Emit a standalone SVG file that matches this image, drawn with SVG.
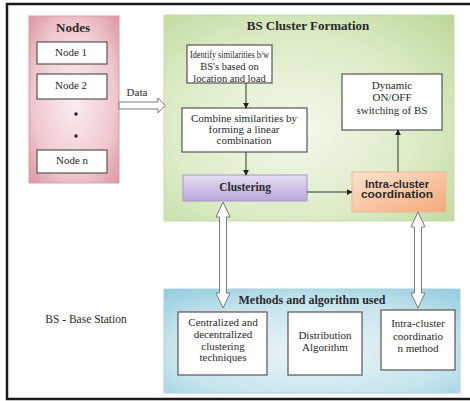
<svg xmlns="http://www.w3.org/2000/svg" width="470" height="401" viewBox="0 0 470 401" font-family="'Liberation Serif','Times New Roman',serif">
<defs>
<radialGradient id="gPink" cx="0.5" cy="0.5" r="0.75">
<stop offset="0" stop-color="#fbeef0"/>
<stop offset="0.6" stop-color="#f0c8ce"/>
<stop offset="1" stop-color="#d98c98"/>
</radialGradient>
<radialGradient id="gGreen" cx="0.45" cy="0.55" r="0.8">
<stop offset="0" stop-color="#f4f8ec"/>
<stop offset="0.55" stop-color="#dcebc6"/>
<stop offset="1" stop-color="#b9d596"/>
</radialGradient>
<radialGradient id="gBlue" cx="0.5" cy="0.6" r="0.8">
<stop offset="0" stop-color="#eaf5f8"/>
<stop offset="0.6" stop-color="#c6e4ed"/>
<stop offset="1" stop-color="#8cc9db"/>
</radialGradient>
<linearGradient id="gPurple" x1="0" y1="0" x2="0" y2="1">
<stop offset="0" stop-color="#e6def2"/>
<stop offset="1" stop-color="#b9a6da"/>
</linearGradient>
<linearGradient id="gOrange" x1="0" y1="0" x2="1" y2="1">
<stop offset="0" stop-color="#fde3cf"/>
<stop offset="1" stop-color="#f5a97a"/>
</linearGradient>
<marker id="ah" viewBox="0 0 8 8" refX="7" refY="4" markerWidth="6" markerHeight="6" orient="auto" markerUnits="userSpaceOnUse">
<path d="M0,0 L8,4 L0,8 z" fill="#222"/>
</marker>
</defs>
<style>
.t{font-family:"Liberation Serif","Times New Roman",serif;fill:#2a2a2a;text-anchor:middle}
.s{font-size:11px}
.b{font-weight:bold}
.sans{font-family:"Liberation Sans",Arial,sans-serif}
.wb{fill:#fff;stroke:#555;stroke-width:1.2}
.ln{stroke:#333;stroke-width:1;fill:none;marker-end:url(#ah)}
.ha{fill:#fff;stroke:#7a7a7a;stroke-width:1}
</style>
<rect x="0" y="0" width="470" height="401" fill="#fff"/>
<path d="M470 4 H7 V399 H470" fill="none" stroke="#1a1a1a" stroke-width="2.5"/>

<g id="nodes">
<rect x="29" y="16" width="90" height="167" fill="url(#gPink)" stroke="#d8a0a8" stroke-width="1"/>
<text class="t b" x="73" y="32" font-size="13">Nodes</text>
<g id="node1"><rect class="wb" x="37" y="42" width="70" height="22"/><text class="t s" x="71" y="56">Node 1</text></g>
<g id="node2"><rect class="wb" x="37" y="74" width="70" height="25"/><text class="t s" x="71" y="89">Node 2</text></g>
<circle cx="76" cy="114" r="1.7" fill="#222"/>
<circle cx="76" cy="136" r="1.7" fill="#222"/>
<g id="noden"><rect class="wb" x="37" y="150" width="70" height="23"/><text class="t s" x="72" y="164">Node n</text></g>
</g>

<g id="cluster">
<rect x="164" y="15" width="290" height="206" fill="url(#gGreen)" stroke="#c7ddaa" stroke-width="1"/>
<text class="t b" x="308" y="30" font-size="13">BS Cluster Formation</text>
</g>
<g id="identify">
<rect class="wb" x="187" y="45" width="85" height="38"/>
<text class="t" font-size="10.5" x="229.5" y="58" textLength="79" lengthAdjust="spacingAndGlyphs">Identify similarities b/w</text>
<text class="t" font-size="10.5" x="229.5" y="70">BS's based on</text>
<text class="t" font-size="10.5" x="229.5" y="81.5">location and load</text>
</g>
<g id="combine">
<rect class="wb" x="182" y="108" width="125" height="44"/>
<text class="t s" x="244" y="122" textLength="106" lengthAdjust="spacingAndGlyphs">Combine similarities by</text>
<text class="t s" x="244" y="133">forming a linear</text>
<text class="t s" x="244" y="144">combination</text>
</g>
<g id="clustering">
<rect x="183" y="175" width="124" height="26" fill="url(#gPurple)" stroke="#a898c8" stroke-width="1"/>
<text class="t b" x="245" y="191" font-size="11.5">Clustering</text>
</g>
<g id="dynamic">
<rect class="wb" x="342" y="74" width="100" height="56"/>
<text class="t s" x="392" y="89">Dynamic</text>
<text class="t s" x="392" y="101">ON/OFF</text>
<text class="t s" x="392" y="114">switching of BS</text>
</g>
<g id="intra">
<rect x="352" y="172" width="94" height="40" fill="url(#gOrange)" stroke="#f2b890" stroke-width="1"/>
<text class="t b sans" x="397" y="188" font-size="10" textLength="64" lengthAdjust="spacingAndGlyphs">Intra-cluster</text>
<text class="t b sans" x="397" y="198" font-size="10" textLength="72" lengthAdjust="spacingAndGlyphs">coordination</text>
</g>

<g id="methods">
<rect x="164" y="289" width="296" height="104" fill="url(#gBlue)" stroke="#a9d3e0" stroke-width="1"/>
<text class="t b" x="312" y="304" font-size="12">Methods and algorithm used</text>
</g>
<g id="centralized">
<rect class="wb" x="178" y="312" width="89" height="63"/>
<text class="t s" x="223" y="326">Centralized and</text>
<text class="t s" x="223" y="337.5">decentralized</text>
<text class="t s" x="223" y="349.5">clustering</text>
<text class="t s" x="223" y="361">techniques</text>
</g>
<g id="distribution">
<rect class="wb" x="288" y="312" width="74" height="63"/>
<text class="t s" x="325" y="339">Distribution</text>
<text class="t s" x="325" y="351">Algorithm</text>
</g>
<g id="intramethod">
<rect class="wb" x="381" y="310" width="74" height="60"/>
<text class="t s" x="418" y="327">Intra-cluster</text>
<text class="t s" x="418" y="340">coordinatio</text>
<text class="t s" x="418" y="352">n method</text>
</g>

<text class="t" x="86" y="323" font-size="11.5">BS - Base Station</text>

<g id="connectors">
<polygon class="ha" points="119,102 158,102 158,98 165,105.5 158,113 158,109 119,109"/>
<text class="t s" x="137" y="96">Data</text>
<line class="ln" x1="246" y1="83" x2="246" y2="108"/>
<line class="ln" x1="246" y1="152" x2="246" y2="175"/>
<line class="ln" x1="307" y1="192" x2="352" y2="192"/>
<line class="ln" x1="398" y1="172" x2="398" y2="130"/>
<polygon class="ha" points="223,202 230,217 226.5,217 226.5,293 230,293 223,308 216,293 219.5,293 219.5,217 216,217"/>
<polygon class="ha" points="418,212 425,227 421.5,227 421.5,293 425,293 418,308 411,293 414.5,293 414.5,227 411,227"/>
</g>
</svg>
